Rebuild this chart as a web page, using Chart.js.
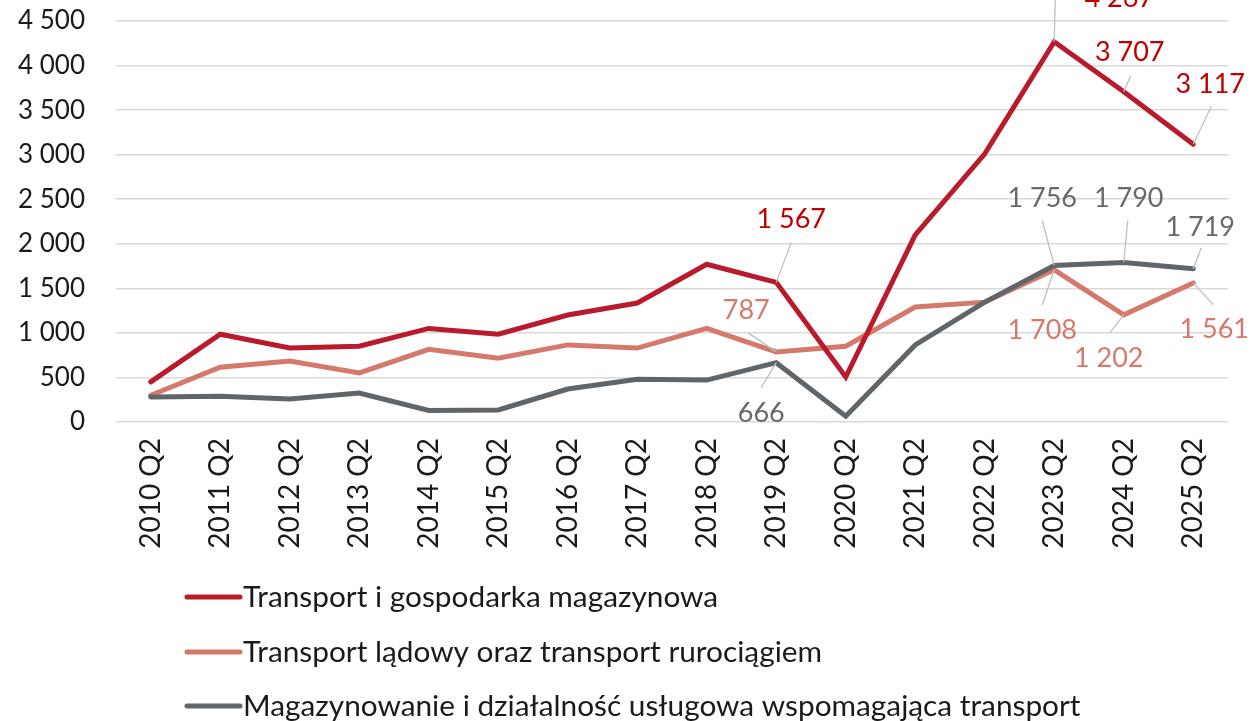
<!DOCTYPE html>
<html>
<head>
<meta charset="utf-8">
<script src="https://cdn.jsdelivr.net/npm/chart.js@4"></script>
<style>
html,body{margin:0;padding:0;background:#fff;}
#wrap{width:1253px;height:721px;position:relative;}
</style>
</head>
<body>
<div id="wrap"><canvas id="c" width="1253" height="721"></canvas></div>
<script>
// ---- data ----
const categories = ["2010 Q2","2011 Q2","2012 Q2","2013 Q2","2014 Q2","2015 Q2","2016 Q2","2017 Q2","2018 Q2","2019 Q2","2020 Q2","2021 Q2","2022 Q2","2023 Q2","2024 Q2","2025 Q2"];
const transportTotal = [450, 985, 830, 850, 1050, 985, 1200, 1335, 1770, 1567, 505, 2100, 3010, 4267, 3707, 3117];
const transportLand  = [300, 615, 685, 550, 815, 715, 865, 830, 1050, 787, 850, 1290, 1345, 1708, 1202, 1561];
const warehousing    = [280, 290, 258, 325, 130, 135, 370, 480, 470, 666, 65, 865, 1345, 1756, 1790, 1719];
const seriesNames = ["Transport i gospodarka magazynowa","Transport lądowy oraz transport rurociągiem","Magazynowanie i działalność usługowa wspomagająca transport"];
const yTicks = [0,500,1000,1500,2000,2500,3000,3500,4000,4500];
const labelledIdx = [9,13,14,15];

// ---- styles ----
const colors = ["#B91A2C","#D6796D","#5F6568"];
const labelColors = ["#C00000","#D6796D","#666A6D"];
const FONT = "Lato, 'Open Sans', sans-serif";
// label offsets [dx,dy] of text centre and leader-line end, relative to point
const labelPos = [
  {9:[15,-63,15,-40],13:[65,-43,1,-45],14:[6,-39,7,-16],15:[17,-60,18,-38]},
  {9:[-30,-42,-28,-19],13:[-12,60,-12,35],14:[-15,43,-14,18],15:[21,46,20,22]},
  {9:[-15,51,-15,25],13:[-12,-67,-12,-45],14:[5,-64,4,-42],15:[7,-42,8,-21]}
];

function fmt(v){ return String(Math.round(v)).replace(/\B(?=(\d{3})+(?!\d))/g,' '); }

const labelPlugin = {
  id:'labels',
  afterDatasetsDraw(chart){
    const ctx = chart.ctx;
    chart.data.datasets.forEach((ds,di)=>{
      const meta = chart.getDatasetMeta(di);
      labelledIdx.forEach(i=>{
        const p = meta.data[i]; const o = labelPos[di][i];
        if(!p||!o) return;
        ctx.save();
        ctx.strokeStyle = "#BFBFBF"; ctx.lineWidth = 1.3;
        ctx.beginPath(); ctx.moveTo(p.x, p.y); ctx.lineTo(p.x+o[2], p.y+o[3]); ctx.stroke();
        ctx.fillStyle = labelColors[di];
        ctx.font = "27px " + FONT;
        ctx.textAlign = "center"; ctx.textBaseline = "middle";
        ctx.fillText(fmt(ds.data[i]), p.x+o[0], p.y+o[1]);
        ctx.restore();
      });
    });
  }
};

const legendPlugin = {
  id:'customLegend',
  afterDraw(chart){
    const ctx = chart.ctx;
    const x0 = 187, x1 = 240, ys = [597,652,706];
    chart.data.datasets.forEach((ds,di)=>{
      ctx.save();
      ctx.strokeStyle = ds.borderColor; ctx.lineWidth = 5; ctx.lineCap = "round";
      ctx.beginPath(); ctx.moveTo(x0, ys[di]); ctx.lineTo(x1, ys[di]); ctx.stroke();
      ctx.fillStyle = "#1a1a1a"; ctx.font = "29.8px " + FONT;
      ctx.textAlign = "left"; ctx.textBaseline = "middle";
      ctx.fillText(ds.label, x1+3, ys[di]);
      ctx.restore();
    });
  }
};

const seriesData = [transportTotal, transportLand, warehousing];
new Chart(document.getElementById('c'), {
  type:'line',
  data:{
    labels: categories,
    datasets: seriesData.map((d,i)=>({
      label: seriesNames[i], data: d, borderColor: colors[i], backgroundColor: colors[i],
      borderWidth: 5, pointRadius: 0, tension: 0, borderCapStyle:'round', borderJoinStyle:'miter', order: i===0?0:(i===1?2:1)
    }))
  },
  options:{
    responsive:false, animation:false,
    layout:{padding:{top:21,right:25,bottom:161,left:0}},
    plugins:{legend:{display:false}, tooltip:{enabled:false}},
    scales:{
      x:{
        offset:true,
        grid:{display:false, drawTicks:false},
        border:{display:false},
        ticks:{minRotation:90,maxRotation:90,autoSkip:false,padding:16,color:"#1a1a1a",font:{family:FONT,size:28}},
        afterFit(s){ s.height = 138; }
      },
      y:{
        min:0,max:4500,
        afterBuildTicks(s){ s.ticks = yTicks.map(v=>({value:v})); },
        grid:{color:"#D9D9D9",lineWidth:1.5,drawTicks:false},
        border:{display:false},
        ticks:{padding:31,color:"#1a1a1a",font:{family:FONT,size:26},callback:v=>fmt(v)},
        afterFit(s){ s.width = 116; s.paddingTop = 10; s.paddingBottom = 10; }
      }
    }
  },
  plugins:[labelPlugin, legendPlugin]
});
</script>
</body>
</html>
